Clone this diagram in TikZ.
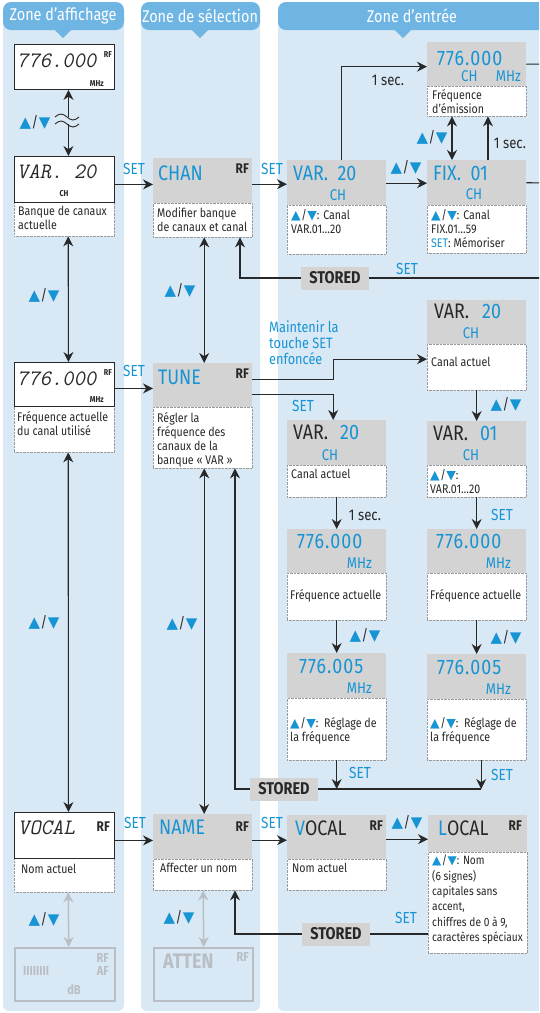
\documentclass[tikz,border=0pt]{standalone}
\usepackage{fontspec}
\setmainfont{Fira Sans}[FakeStretch=0.85]
\newfontfamily\symf{DejaVu Sans}
\newfontfamily\lcdf{Latin Modern Mono}[FakeSlant=0.2]
\usetikzlibrary{arrows.meta,positioning}

\definecolor{bgblue}{RGB}{216,232,245}
\definecolor{headblue}{RGB}{110,181,228}
\definecolor{boxgray}{RGB}{211,211,211}
\definecolor{cblue}{RGB}{22,148,212}
\definecolor{dark}{RGB}{40,40,40}
\definecolor{faded}{RGB}{185,190,196}

% up/down keys
\newcommand\ud{{\symf\textcolor{cblue}{▲}}\kern0.5pt\textcolor{dark}{/}\kern0.5pt{\symf\textcolor{cblue}{▼}}}
\newcommand\fhead{\fontsize{17}{17}\selectfont}
\newcommand\fbig{\fontsize{21}{21}\selectfont}
\newcommand\fnum{\fontsize{21}{21}\selectfont\addfontfeature{LetterSpace=5}}
\newcommand\funit{\fontsize{15.5}{15.5}\selectfont}
\newcommand\frf{\fontsize{14}{14}\selectfont\bfseries}
\newcommand\fdesc{\fontsize{12.5}{14}\selectfont}
\newcommand\fset{\fontsize{16}{16}\selectfont}
\newcommand\flcd{\lcdf\fontsize{22}{22}\selectfont}
\newcommand\flcds{\fontsize{8.5}{8.5}\selectfont\bfseries}

\tikzset{
  arr/.style={draw=dark,line width=1.1pt,-{Stealth[length=10pt,width=10pt]}},
  dbl/.style={draw=dark,line width=1.1pt,{Stealth[length=10pt,width=10pt]}-{Stealth[length=10pt,width=10pt]}},
  fadedbl/.style={draw=faded,line width=1.5pt,{Stealth[length=10pt,width=10pt]}-{Stealth[length=10pt,width=10pt]}},
  line/.style={draw=dark,line width=1.1pt},
  lcd/.style={draw=dark,line width=0.9pt,fill=white,anchor=north west,minimum width=100pt,minimum height=45pt,inner sep=0pt},
  menu/.style={fill=boxgray,anchor=north west,minimum width=99pt,minimum height=45pt,inner sep=0pt},
  desc/.style={draw=gray!80,densely dotted,fill=white,anchor=north west,minimum width=99pt,inner sep=0pt},
  dtxt/.style={anchor=north west,align=left,inner sep=0pt,font=\fdesc,text=dark},
  big/.style={anchor=base west,inner sep=0pt,font=\fbig,text=cblue},
  num/.style={anchor=base west,inner sep=0pt,font=\fnum,text=cblue},
  unit/.style={anchor=base,inner sep=0pt,font=\funit,text=cblue},
  rf/.style={anchor=base east,inner sep=0pt,font=\frf,text=dark},
  lcdnum/.style={anchor=base west,inner sep=0pt,font=\flcd,text=dark},
  lcdsmall/.style={inner sep=0pt,font=\flcds,text=dark},
  fadetxt/.style={inner sep=0pt,font=\fontsize{13}{13}\selectfont\bfseries,text=faded},
  setl/.style={inner sep=0pt,font=\fset,text=cblue},
  keys/.style={inner sep=0pt,font=\fontsize{15}{15}\selectfont},
  secl/.style={inner sep=0pt,font=\fontsize{15.5}{15.5}\selectfont,text=dark},
  stored/.style={fill=boxgray,font=\fontsize{17}{17}\selectfont\bfseries,text=dark,minimum width=68pt,minimum height=23pt,inner sep=0pt},
  zonetitle/.style={font=\fhead,text=white,inner sep=0pt},
}

\begin{document}
\begin{tikzpicture}[x=1pt,y=-1pt]
\useasboundingbox (0,0) rectangle (539,1013);
\clip (0,0) rectangle (539,1013);

% zones
\fill[bgblue,rounded corners=6pt] (3,14) rectangle (124,1011);
\fill[bgblue,rounded corners=6pt] (141,14) rectangle (260,1011);
\fill[bgblue,rounded corners=6pt] (278,14) rectangle (580,1011);
\fill[headblue,rounded corners=8pt] (3,2) rectangle (124,30);
\fill[headblue,rounded corners=8pt] (141,2) rectangle (260,30);
\fill[headblue,rounded corners=8pt] (278,2) rectangle (580,30);
\fill[headblue] (54,29) -- (72,29) -- (63,38) -- cycle;
\fill[headblue] (191,29) -- (209,29) -- (200,38) -- cycle;
\fill[headblue] (394,29) -- (412,29) -- (403,38) -- cycle;
\node[zonetitle] (z1) at (63,16) {Zone d’affichage};
\node[zonetitle] (z2) at (200,16) {Zone de sélection};
\node[zonetitle] (z3) at (412,16) {Zone d’entrée};

% display zone
\node[lcd] (lcd1) at (14,44) {};
\node[lcdnum] (lcd1-n) at (17,67) {776.000};
\node[lcdsmall,anchor=base east] (lcd1-rf) at (112,57) {RF};
\node[lcdsmall,anchor=base east] (lcd1-u) at (104,86) {MHz};

\node[desc,minimum width=100pt,minimum height=34pt] (lcd2-d) at (14,202) {};
\node[lcd,minimum height=46pt] (lcd2) at (14,156) {};
\node[lcdnum] (lcd2-n) at (17,178) {VAR. 20};
\node[lcdsmall,anchor=base] (lcd2-u) at (64,196) {CH};
\node[dtxt] (lcd2-t) at (18,206) {Banque de canaux\\actuelle};

\node[desc,minimum width=100pt,minimum height=46pt] (lcd3-d) at (14,406) {};
\node[lcd,minimum height=44pt] (lcd3) at (14,362) {};
\node[lcdnum] (lcd3-n) at (17,385) {776.000};
\node[lcdsmall,anchor=base east] (lcd3-rf) at (112,375) {RF};
\node[lcdsmall,anchor=base east] (lcd3-u) at (104,402) {MHz};
\node[dtxt] (lcd3-t) at (17,411) {Fréquence actuelle\\du canal utilisé};

\node[desc,minimum width=100pt,minimum height=34pt] (lcd4-d) at (14,858) {};
\node[lcd,minimum height=46pt] (lcd4) at (14,812) {};
\node[lcdnum] (lcd4-n) at (18,834) {VOCAL};
\node[rf] (lcd4-rf) at (110,831) {RF};
\node[dtxt] (lcd4-t) at (21,864) {Nom actuel};

\node[lcd,draw=faded,line width=1.5pt,fill=bgblue,minimum height=53pt] (lcd5) at (14,947) {};
\node[fadetxt,anchor=base west] (lcd5-bar) at (23,975) {IIIIIIII};
\node[fadetxt,anchor=base east] (lcd5-rf) at (109,962) {RF};
\node[fadetxt,anchor=base east] (lcd5-af) at (109,975) {AF};
\node[fadetxt,anchor=base] (lcd5-db) at (74,994) {dB};

\draw[dbl] ([xshift=4pt]lcd1.south) -- ([xshift=4pt]lcd2.north);
\fill[bgblue] (58,117) rectangle (78,124);
\draw[line,line width=0.9pt] (55,117) sin (61,114) cos (67,117) sin (73,120) cos (79,117);
\draw[line,line width=0.9pt] (55,124) sin (61,121) cos (67,124) sin (73,127) cos (79,124);
\node[keys] (k1) at (35,122) {\ud};
\draw[dbl] ([xshift=4pt]lcd2-d.south) -- ([xshift=4pt]lcd3.north);
\node[keys] (k2) at (44,295) {\ud};
\draw[dbl] ([xshift=4pt]lcd3-d.south) -- ([xshift=4pt]lcd4.north);
\node[keys] (k3) at (44,622) {\ud};
\draw[fadedbl] ([xshift=4pt]lcd4-d.south) -- ([xshift=4pt]lcd5.north);
\node[keys] (k4) at (44,919) {\ud};

% selection zone
\node[desc,minimum height=34pt] (chan-d) at (153,203) {};
\node[menu] (chan) at (153,158) {};
\node[big] (chan-n) at (158,180) {CHAN};
\node[rf] (chan-rf) at (249,173) {RF};
\node[dtxt] (chan-t) at (157,208) {Modifier banque\\de canaux et canal};

\node[desc,minimum height=61pt] (tune-d) at (153,407) {};
\node[menu,minimum height=44pt] (tune) at (153,363) {};
\node[big] (tune-n) at (158,384) {TUNE};
\node[rf] (tune-rf) at (249,378) {RF};
\node[dtxt] (tune-t) at (157,412) {Régler la\\fréquence des\\canaux de la\\banque « VAR »};

\node[desc,minimum height=31pt] (name-d) at (153,859) {};
\node[menu] (name) at (153,814) {};
\node[big] (name-n) at (159,834) {NAME};
\node[rf] (name-rf) at (249,831) {RF};
\node[dtxt] (name-t) at (160,863) {Affecter un nom};

\node[menu,fill=bgblue,draw=faded,line width=1.5pt,minimum height=53pt] (atten) at (153,947) {};
\node[fadetxt,font=\fbig\bfseries,anchor=base west] (atten-n) at (163,968) {ATTEN};
\node[fadetxt,anchor=base east] (atten-rf) at (249,961) {RF};

\draw[dbl] ([xshift=1.5pt]chan-d.south) -- ([xshift=1.5pt]tune.north);
\node[keys] (k5) at (180,290) {\ud};
\draw[dbl] ([xshift=1.5pt]tune-d.south) -- ([xshift=1.5pt]name.north);
\node[keys] (k6) at (182,623) {\ud};
\draw[fadedbl] ([xshift=0.5pt]name-d.south) -- ([xshift=0.5pt]atten.north);
\node[keys] (k7) at (179,917) {\ud};

\draw[arr] ([yshift=-5pt]lcd2.east) -- ([yshift=-5pt]lcd2.east -| chan.west);
\node[setl] (s1) at (134,169) {SET};
\draw[arr] ([yshift=-4pt]lcd3.east) -- ([yshift=-4pt]lcd3.east -| tune.west);
\node[setl] (s2) at (134,371) {SET};
\draw[arr] ([yshift=-5pt]lcd4.east) -- ([yshift=-5pt]lcd4.east -| name.west);
\node[setl] (s3) at (135,823) {SET};

% input zone
\node[desc,minimum height=30pt] (frq1-d) at (427,86) {};
\node[menu,minimum height=44pt] (frq1) at (427,42) {};
\node[num] (frq1-n) at (437,65) {776.000};
\node[unit,anchor=base west] (frq1-ch) at (461,81) {CH};
\node[unit,anchor=base east] (frq1-u) at (521,81) {MHz};
\node[dtxt] (frq1-t) at (432,89) {Fréquence\\d’émission};

\node[desc,minimum height=49pt] (var1-d) at (287,205) {};
\node[menu] (var1) at (287,160) {};
\node[big] (var1-n) at (293,180) {VAR.\ \ 20};
\node[unit] (var1-u) at (338,200) {CH};
\node[dtxt] (var1-t) at (291,209) {\ud: Canal\\VAR.01…20};

\node[desc,minimum height=48pt] (fix-d) at (427,205) {};
\node[menu] (fix) at (427,160) {};
\node[big] (fix-n) at (433,180) {FIX.\ \ 01};
\node[unit] (fix-u) at (474,199) {CH};
\node[dtxt] (fix-t) at (431,209) {\ud: Canal\\FIX.01…59\\\textcolor{cblue}{SET}: Mémoriser};

\node[stored] (st1) at (335,278) {STORED};
\coordinate (e1) at (545,64);
\coordinate (e2) at (545,183);
\coordinate (e3) at (545,278);

\draw[arr] ([yshift=-3.5pt]chan.east) -- ([yshift=-3.5pt]chan.east -| var1.west);
\node[setl] (s4) at (272,169) {SET};
\draw[arr] ([xshift=4.5pt]var1.north) |- ([yshift=-2.5pt]frq1.west);
\node[secl] (sec1) at (388,80) {1 sec.};
\draw[arr] ([yshift=-0.5pt]var1.east) -- ([yshift=-0.5pt]var1.east -| fix.west);
\node[keys] (k8) at (406,167) {\ud};
\draw[dbl] ([xshift=25pt]frq1-d.south west) -- ([xshift=25pt]fix.north west);
\node[keys] (k9) at (432,137) {\ud};
\draw[arr] ([xshift=61pt]fix.north west) -- ([xshift=61pt]frq1-d.south west);
\node[secl] (sec2) at (510,143) {1 sec.};
\draw[line] (frq1.east) -- (e1);
\draw[line] (fix.east) -- (e2);
\draw[line] (e3) -- (st1.east);
\node[setl] (s5) at (407,269) {SET};
\draw[arr] (st1.west) -| ([xshift=87pt]chan-d.south west);

% tune branch
\node[desc,minimum height=46pt] (var2-d) at (427,344) {};
\node[menu,minimum height=44pt] (var2) at (427,300) {};
\node[big,text=dark] (var2-n) at (434,318) {VAR.};
\node[big] (var2-m) at (482,318) {20};
\node[unit] (var2-u) at (471,338) {CH};
\node[dtxt,anchor=west] (var2-t) at (431,362) {Canal actuel};

\node[desc,minimum height=32pt] (var3-d) at (287,465) {};
\node[menu] (var3) at (287,420) {};
\node[big,text=dark] (var3-n) at (293,439) {VAR.};
\node[big] (var3-m) at (340,439) {20};
\node[unit] (var3-u) at (330,460) {CH};
\node[dtxt] (var3-t) at (291,469) {Canal actuel};

\node[desc,minimum height=32pt] (var4-d) at (427,465) {};
\node[menu,minimum height=44pt] (var4) at (427,421) {};
\node[big,text=dark] (var4-n) at (433,440) {VAR.};
\node[big] (var4-m) at (480,440) {01};
\node[unit] (var4-u) at (471,460) {CH};
\node[dtxt] (var4-t) at (430,469) {\ud:\\VAR.01…20};

\node[desc,minimum height=47pt] (frq2-d) at (287,573) {};
\node[menu,minimum height=44pt] (frq2) at (287,529) {};
\node[num] (frq2-n) at (297,548) {776.000};
\node[unit,anchor=base east] (frq2-u) at (372,568) {MHz};
\node[dtxt,anchor=west] (frq2-t) at (290,596) {Fréquence actuelle};

\node[desc,minimum height=47pt] (frq3-d) at (427,573) {};
\node[menu,minimum height=44pt] (frq3) at (427,529) {};
\node[num] (frq3-n) at (436,548) {776.000};
\node[unit,anchor=base east] (frq3-u) at (511,568) {MHz};
\node[dtxt,anchor=west] (frq3-t) at (430,596) {Fréquence actuelle};

\node[desc,minimum height=62pt] (frq4-d) at (287,698) {};
\node[menu] (frq4) at (287,653) {};
\node[num] (frq4-n) at (299,673) {776.005};
\node[unit,anchor=base east] (frq4-u) at (372,693) {MHz};
\node[dtxt,anchor=west] (frq4-t) at (290,731) {\ud:\ \ Réglage de\\la fréquence};

\node[desc,minimum height=61pt] (frq5-d) at (427,699) {};
\node[menu] (frq5) at (427,654) {};
\node[num] (frq5-n) at (437,674) {776.005};
\node[unit,anchor=base east] (frq5-u) at (511,694) {MHz};
\node[dtxt,anchor=west] (frq5-t) at (430,731) {\ud:\ \ Réglage de\\la fréquence};

\node[stored] (st2) at (284,789) {STORED};

\draw[arr] ([yshift=6pt]tune.east) -- ++(81,0) |- ([yshift=8pt]var2-d.west);
\node[setl,align=left,anchor=north west,font=\fontsize{15}{16}\selectfont] (hold) at (269,321) {Maintenir la\\touche SET\\enfoncée};
\draw[arr] ([yshift=-9pt]tune.east) -| ([xshift=-3.5pt]var3.north);
\node[setl] (s6) at (303,406) {SET};
\draw[arr] (var2-d.south) -- (var4.north);
\node[keys] (k10) at (506,404) {\ud};
\draw[arr] (var3-d.south) -- (frq2.north);
\node[secl] (sec3) at (365,515) {1 sec.};
\draw[arr] (var4-d.south) -- (frq3.north);
\node[setl] (s7) at (502,515) {SET};
\draw[arr] (frq2-d.south) -- (frq4.north);
\node[keys] (k11) at (365,635) {\ud};
\draw[arr] (frq3-d.south) -- (frq5.north);
\node[keys] (k12) at (506,637) {\ud};
\draw[arr] (frq4-d.south) -- (frq4-d.south |- st2.east);
\node[setl] (s8) at (360,773) {SET};
\draw[arr] ([xshift=4.5pt]frq5-d.south) -- ([xshift=4.5pt]frq5-d.south |- st2.east);
\node[setl] (s9) at (502,775) {SET};
\draw[line] (st2.east) -- ([xshift=4.5pt]frq5-d.south |- st2.east);
\draw[arr] (st2.west) -| ([xshift=82pt]tune-d.south west);

% name branch
\node[desc,minimum height=31pt] (vocal-d) at (287,859) {};
\node[menu,minimum height=44pt] (vocal) at (287,815) {};
\node[big] (vocal-n) at (295,835) {V\textcolor{dark}{OCAL}};
\node[rf] (vocal-rf) at (383,830) {RF};
\node[dtxt] (vocal-t) at (292,863) {Nom actuel};

\node[desc,minimum height=101pt] (local-d) at (428,852) {};
\node[menu,minimum height=37pt] (local) at (428,815) {};
\node[big] (local-n) at (438,835) {L\textcolor{dark}{OCAL}};
\node[rf] (local-rf) at (522,830) {RF};
\node[dtxt,font=\fontsize{12}{15.3}\selectfont] (local-t) at (432,855) {\ud: Nom\\(6 signes)\\capitales sans\\accent,\\chiffres de 0 à 9,\\caractères spéciaux};

\node[stored] (st3) at (336,934) {STORED};

\draw[arr] ([yshift=-3.5pt]name.east) -- ([yshift=-3.5pt]name.east -| vocal.west);
\node[setl] (s10) at (272,823) {SET};
\draw[arr] ([yshift=-2pt]vocal.east) -- ([yshift=-2pt]vocal.east -| local.west);
\node[keys] (k13) at (407,822) {\ud};
\draw[line] (st3.east -| local-d.west) -- (st3.east);
\node[setl] (s11) at (406,918) {SET};
\draw[arr] (st3.west) -| ([xshift=82pt]name-d.south west);

\end{tikzpicture}
\end{document}
